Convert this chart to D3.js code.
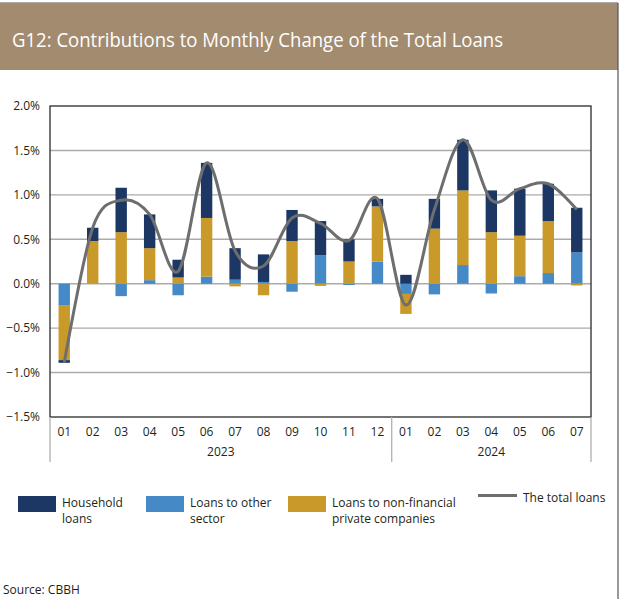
<!DOCTYPE html>
<html>
<head>
<meta charset="utf-8">
<script src="https://cdn.jsdelivr.net/npm/d3@7"></script>
<style>
  html, body { margin: 0; padding: 0; background: #fff; }
  svg { display: block; font-family: "Open Sans", "Noto Sans", sans-serif; }
</style>
</head>
<body>
<svg id="chart" width="623" height="599"></svg>
<script>
// Month labels and the year each month belongs to
const months = ["01","02","03","04","05","06","07","08","09","10","11","12","01","02","03","04","05","06","07"];
const years  = ["2023","2023","2023","2023","2023","2023","2023","2023","2023","2023","2023","2023",
                "2024","2024","2024","2024","2024","2024","2024"];

// Contributions to the monthly change, percentage points
const household = [-0.03, 0.15, 0.50, 0.38, 0.20, 0.62, 0.355, 0.31, 0.35, 0.385, 0.25, 0.085,
                    0.10, 0.335, 0.57, 0.47, 0.53, 0.42, 0.50];
const otherSector = [-0.24, 0.00, -0.14, 0.04, -0.13, 0.08, 0.045, 0.02, -0.09, 0.32, -0.015, 0.25,
                     -0.115, -0.12, 0.21, -0.11, 0.085, 0.12, 0.355];
const nonFinancial = [-0.62, 0.48, 0.58, 0.36, 0.07, 0.66, -0.03, -0.13, 0.48, -0.025, 0.25, 0.62,
                      -0.225, 0.62, 0.84, 0.58, 0.455, 0.585, -0.02];

const yTicks = [2.0, 1.5, 1.0, 0.5, 0.0, -0.5, -1.0, -1.5];

const seriesNames = {
  other: "Loans to other sector",
  nonfin: "Loans to non-financial private companies",
  household: "Household loans"
};
const colors = { household: "#1c3763", other: "#4589c6", nonfin: "#c9992a", total: "#6e6e6e" };

const rows = months.map((m, i) => ({
  idx: i,
  month: m,
  year: years[i],
  household: household[i],
  other: otherSector[i],
  nonfin: nonFinancial[i],
  total: household[i] + otherSector[i] + nonFinancial[i]
}));

const svg = d3.select("#chart");
const W = 623, H = 599;

// Frame and title band
svg.append("rect").attr("x", 0).attr("y", 3).attr("width", 618).attr("height", 67).attr("fill", "#a38b70");
svg.append("line").attr("x1", 0).attr("x2", 618).attr("y1", 3).attr("y2", 3)
  .attr("stroke", "#8f8f8f").attr("stroke-width", 1.5);
svg.append("line").attr("x1", 618).attr("x2", 618).attr("y1", 3).attr("y2", H)
  .attr("stroke", "#555").attr("stroke-width", 1.2);
svg.append("text")
  .attr("x", 12).attr("y", 47)
  .attr("fill", "#ffffff")
  .attr("font-size", 19.5)
  .attr("textLength", 491).attr("lengthAdjust", "spacingAndGlyphs")
  .text("G12: Contributions to Monthly Change of the Total Loans");

// Plot area
const plot = { left: 50, right: 591, top: 106, bottom: 417 };

const x = d3.scaleBand()
  .domain(rows.map(d => d.idx))
  .range([plot.left, plot.right])
  .paddingInner(0.6).paddingOuter(0.3);

const xCenter = d3.scaleBand()
  .domain(rows.map(d => d.idx))
  .range([plot.left, plot.right]);

const y = d3.scaleLinear().domain([-1.5, 2.0]).range([plot.bottom, plot.top]);

// Horizontal gridlines
svg.append("g")
  .selectAll("line")
  .data(yTicks.filter(t => t > -1.5 && t < 2.0))
  .join("line")
  .attr("x1", plot.left).attr("x2", plot.right)
  .attr("y1", d => y(d)).attr("y2", d => y(d))
  .attr("stroke", "#ababab").attr("stroke-width", 1.4);

// Y axis labels
const yAxis = d3.axisLeft(y).tickValues(yTicks).tickSize(0).tickPadding(10)
  .tickFormat(d => d3.format(".1f")(d) + "%");
const gy = svg.append("g").attr("transform", `translate(${plot.left},0)`).call(yAxis);
gy.select(".domain").remove();
gy.selectAll("text").attr("font-size", 12).attr("fill", "#231f20")
  .attr("font-family", "'Open Sans', sans-serif");

// Stacked bars (diverging around zero)
const keys = ["other", "nonfin", "household"];
const stacked = d3.stack().keys(keys).offset(d3.stackOffsetDiverging)(rows);

svg.append("g")
  .selectAll("g")
  .data(stacked)
  .join("g")
  .attr("fill", s => colors[s.key])
  .selectAll("rect")
  .data(s => s)
  .join("rect")
  .attr("x", d => x(d.data.idx))
  .attr("width", x.bandwidth())
  .attr("y", d => y(Math.max(d[0], d[1])))
  .attr("height", d => Math.abs(y(d[0]) - y(d[1])));

// Total loans line (smoothed)
const line = d3.line()
  .x(d => xCenter(d.idx) + xCenter.bandwidth() / 2)
  .y(d => y(d.total))
  .curve(d3.curveCatmullRom.alpha(0));

svg.append("path")
  .datum(rows)
  .attr("d", line)
  .attr("fill", "none")
  .attr("stroke", colors.total)
  .attr("stroke-width", 3)
  .attr("stroke-linejoin", "round");

// Plot frame
svg.append("rect")
  .attr("x", plot.left).attr("y", plot.top)
  .attr("width", plot.right - plot.left).attr("height", plot.bottom - plot.top)
  .attr("fill", "none").attr("stroke", "#2a2a2a").attr("stroke-width", 1.3);

// Month labels
const xAxis = d3.axisBottom(xCenter).tickSize(0).tickPadding(10).tickFormat(i => months[i]);
const gx = svg.append("g").attr("transform", `translate(0,${plot.bottom})`).call(xAxis);
gx.select(".domain").remove();
gx.selectAll("text").attr("font-size", 12).attr("fill", "#231f20")
  .attr("font-family", "'Open Sans', sans-serif");

// Year groups with separators
const yearGroups = d3.groups(rows, d => d.year).map(([yr, list]) => ({
  year: yr,
  start: xCenter(list[0].idx),
  end: xCenter(list[list.length - 1].idx) + xCenter.bandwidth()
}));
const sepX = [plot.left, ...yearGroups.map(g => g.end)];
svg.append("g")
  .selectAll("line")
  .data(sepX)
  .join("line")
  .attr("x1", d => d).attr("x2", d => d)
  .attr("y1", plot.bottom).attr("y2", 462)
  .attr("stroke", "#b5b5b5").attr("stroke-width", 1.4);
svg.append("g")
  .selectAll("text")
  .data(yearGroups)
  .join("text")
  .attr("x", g => (g.start + g.end) / 2)
  .attr("y", 456)
  .attr("text-anchor", "middle")
  .attr("font-size", 12).attr("fill", "#231f20")
  .text(g => g.year);

// Legend
const legend = svg.append("g").attr("font-size", 12).attr("fill", "#231f20");
const swatches = [
  { key: "household", x: 18, lines: ["Household", "loans"] },
  { key: "other", x: 146, lines: ["Loans to other", "sector"] },
  { key: "nonfin", x: 288, lines: ["Loans to non-financial", "private companies"] }
];
swatches.forEach(s => {
  legend.append("rect").attr("x", s.x).attr("y", 496).attr("width", 38).attr("height", 16)
    .attr("fill", colors[s.key]);
  const t = legend.append("text").attr("x", s.x + 44).attr("y", 507);
  s.lines.forEach((ln, k) => {
    t.append("tspan").attr("x", s.x + 44).attr("dy", k === 0 ? 0 : 16).text(ln);
  });
});
legend.append("line").attr("x1", 478).attr("x2", 517).attr("y1", 495.5).attr("y2", 495.5)
  .attr("stroke", colors.total).attr("stroke-width", 3);
legend.append("text").attr("x", 523).attr("y", 502).text("The total loans");

// Source note
svg.append("text").attr("x", 3).attr("y", 594).attr("font-size", 12).attr("fill", "#231f20")
  .text("Source: CBBH");
</script>
</body>
</html>
